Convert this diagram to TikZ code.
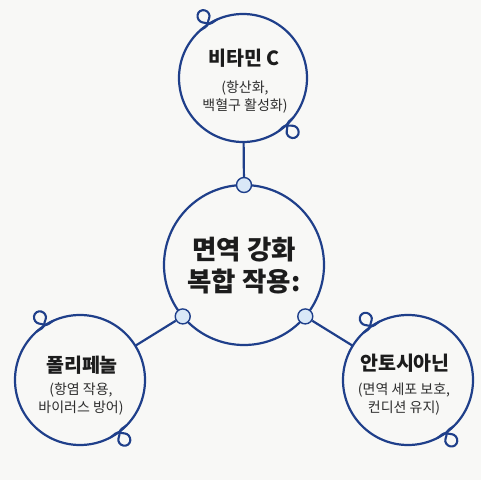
\documentclass[tikz,border=0pt]{standalone}
\usepackage{fontspec}
\usepackage{tikz}
\newfontfamily\kr{Noto Sans CJK KR}
\definecolor{ringblue}{HTML}{1F3F8A}
\definecolor{knotfill}{HTML}{D9E8F7}
\definecolor{paper}{HTML}{F8F8F6}
\definecolor{ink}{HTML}{1C1C1C}
\definecolor{greyink}{HTML}{2E2E2E}

\begin{document}
\begin{tikzpicture}[x=1pt,y=1pt,
        ring/.style={circle,draw=ringblue,line width=2.2pt,inner sep=0pt,outer sep=0pt},
        knot/.style={circle,draw=ringblue,line width=1.4pt,fill=knotfill,minimum size=15pt,inner sep=0pt},
        curl/.style={draw=ringblue,line width=2.1pt,line cap=round},
        ttl/.style={font=\kr\bfseries\fontsize{19.5}{22}\selectfont,text=ink},
        sub/.style={font=\kr\fontsize{14}{18.5}\selectfont,text=greyink,align=center}]
            \fill[paper] (0,0) rectangle (481,480);
            \useasboundingbox (0,0) rectangle (481,480);
            \node[ring,minimum size=128pt] (vitc) at (243,402) {};
            \node[ring,minimum size=160pt] (core) at (244,215) {};
            \node[ring,minimum size=130pt] (poly) at (80,100) {};
            \node[ring,minimum size=130pt] (anth) at (408,100) {};
            \node[knot] (ktop) at (core.90) {};
            \node[knot] (kleft) at (core.220) {};
            \node[knot] (kright) at (core.320) {};
            \draw[ringblue,line width=2.2pt] (vitc) -- (ktop);
            \draw[ringblue,line width=2.2pt] (poly) -- (kleft);
            \draw[ringblue,line width=2.2pt] (anth) -- (kright);
            % curls on the outer rings
            \foreach \n/\a in {vitc/123,vitc/-47,poly/123,poly/-53,anth/125,anth/-54}
                \draw[curl,shift={(\n.\a)},rotate=\a-90] (-10,-0.8) to[out=5,in=-130] (0,1)
                    to[out=50,in=-90] (6.5,9) to[out=90,in=0] (0.5,15.5) to[out=180,in=90] (-5.5,9)
                    to[out=-90,in=130] (0,1) to[out=-50,in=175] (10,-0.8);
            \node[ttl] (vitcT) at (244,422) {비타민 C};
                \node[sub] (vitcS) at (245,383) {(항산화,\\백혈구 활성화)};
            \node[font=\kr\bfseries\fontsize{26.5}{32}\selectfont,text=ink,align=center] (coreT) at (244,214) {면역 강화\\복합 작용:};
            \node[ttl] (polyT) at (82,115) {폴리페놀};
                \node[sub] (polyS) at (81,81) {(항염 작용,\\바이러스 방어)};
            \node[ttl] (anthT) at (405,117) {안토시아닌};
                \node[sub] (anthS) at (404,81) {(면역 세포 보호,\\컨디션 유지)};
        \end{tikzpicture}
\end{document}
